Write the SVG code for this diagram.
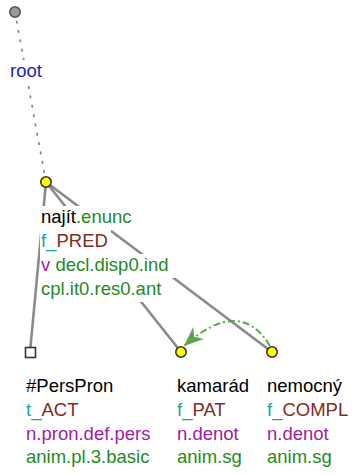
<svg xmlns="http://www.w3.org/2000/svg" width="353" height="475" viewBox="0 0 353 475">
<style>
text{font-family:"Liberation Sans",Arial,sans-serif;font-size:18.5px;fill:#000}
.bg{fill:#fff}
.edge{stroke:#8a8a8a;stroke-width:2.6;fill:none;stroke-linecap:round}
.dot{stroke:#8a8a8a;stroke-width:1.8;fill:none;stroke-dasharray:1.5 8;stroke-linecap:round}
.coref{stroke:#5aa64e;stroke-width:2;fill:none;stroke-dasharray:7 3 2 3}
.nd{fill:#ffff00;stroke:#333;stroke-width:1.6}
.grn{fill:#1f8a1f}.teal{fill:#1aa3a3}.brn{fill:#7e2e1e}.pur{fill:#a020a0}.blu{fill:#1e1eaa}
</style>
<defs>
<marker id="ah" markerUnits="userSpaceOnUse" markerWidth="24" markerHeight="24" viewBox="-19 -9 21 18" refX="0" refY="0" orient="auto">
<path d="M0,0 L-17,-7 L-12,0 L-17,7 z" fill="#5aa64e"/>
</marker>
</defs>
<g id="connectors">
<line class="dot" x1="15" y1="12" x2="46" y2="182"/>
<line class="edge" x1="46" y1="182" x2="30" y2="352"/>
<line class="edge" x1="46" y1="182" x2="181" y2="352"/>
<line class="edge" x1="46" y1="182" x2="272" y2="352"/>
<path class="coref" d="M270,346 Q240,296 184,346" marker-end="url(#ah)"/>
</g>
<g id="root">
<circle cx="15" cy="12" r="5.2" fill="#9a9a9a" stroke="#555" stroke-width="1.6"/>
<rect class="bg" x="9" y="60" width="35" height="22"/>
<text x="10" y="77" class="blu">root</text>
</g>
<g id="najit">
<rect class="bg" x="40" y="206" width="97" height="24"/>
<rect class="bg" x="40" y="230" width="71" height="24"/>
<rect class="bg" x="40" y="254" width="135" height="24"/>
<rect class="bg" x="40" y="278" width="126" height="24"/>
<circle class="nd" cx="46" cy="182" r="5.2"/>
<text x="41" y="223">najít<tspan class="grn">.enunc</tspan></text>
<text x="41" y="247"><tspan class="teal">f_</tspan><tspan class="brn">PRED</tspan></text>
<text x="41" y="271"><tspan class="pur">v</tspan><tspan class="grn"> decl.disp0.ind</tspan></text>
<text x="41" y="295" class="grn">cpl.it0.res0.ant</text>
</g>
<g id="perspron">
<rect x="25.5" y="347.5" width="10" height="10" fill="#fff" stroke="#333" stroke-width="1.6"/>
<text x="26" y="392">#PersPron</text>
<text x="26" y="416"><tspan class="teal">t_</tspan><tspan class="brn">ACT</tspan></text>
<text x="26" y="440" class="pur">n.pron.def.pers</text>
<text x="26" y="463" class="grn">anim.pl.3.basic</text>
</g>
<g id="kamarad">
<circle class="nd" cx="181" cy="352" r="5.2"/>
<text x="177" y="392">kamarád</text>
<text x="177" y="416"><tspan class="teal">f_</tspan><tspan class="brn">PAT</tspan></text>
<text x="177" y="440" class="pur">n.denot</text>
<text x="177" y="463" class="grn">anim.sg</text>
</g>
<g id="nemocny">
<circle class="nd" cx="272" cy="352" r="5.2"/>
<text x="267" y="392">nemocný</text>
<text x="267" y="416"><tspan class="teal">f_</tspan><tspan class="brn">COMPL</tspan></text>
<text x="267" y="440" class="pur">n.denot</text>
<text x="267" y="463" class="grn">anim.sg</text>
</g>
</svg>
